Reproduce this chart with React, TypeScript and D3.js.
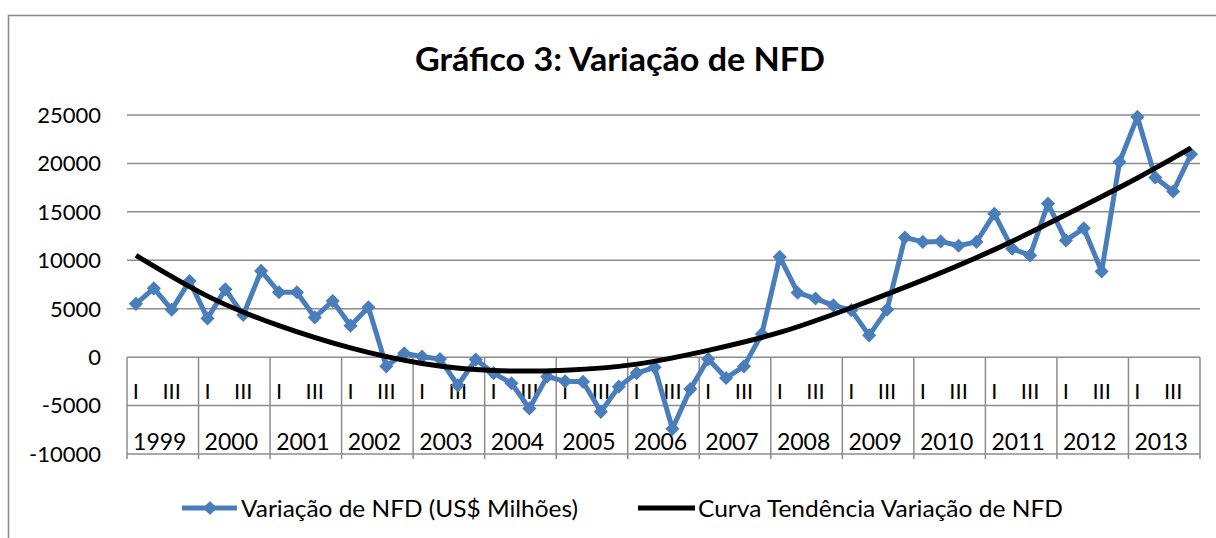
import React from 'react';
import * as d3 from 'd3';

const years = ['1999', '2000', '2001', '2002', '2003', '2004', '2005', '2006', '2007', '2008', '2009', '2010', '2011', '2012', '2013'];
const quarters = ['I', 'II', 'III', 'IV'];
const shownQuarters = ['I', 'III'];

// Variação de NFD (US$ Milhões), quarterly
const nfd1999 = [5500, 7100, 4900, 7850];
const nfd2000 = [4000, 7000, 4350, 8900];
const nfd2001 = [6700, 6700, 4100, 5800];
const nfd2002 = [3250, 5150, -950, 400];
const nfd2003 = [50, -200, -2900, -250];
const nfd2004 = [-1650, -2700, -5300, -2000];
const nfd2005 = [-2500, -2550, -5650, -3050];
const nfd2006 = [-1650, -1050, -7400, -3300];
const nfd2007 = [-200, -2150, -950, 2400];
const nfd2008 = [10350, 6650, 6050, 5350];
const nfd2009 = [4850, 2250, 4900, 12350];
const nfd2010 = [11900, 11950, 11500, 11900];
const nfd2011 = [14800, 11200, 10500, 15850];
const nfd2012 = [12050, 13300, 8850, 20150];
const nfd2013 = [24800, 18550, 17100, 20950];

// trend curve, read at some quarter positions (index into the 60 quarters)
const trendIdx = [0, 4, 8, 12, 16, 20, 24, 28, 32, 36, 40, 44, 48, 52, 56, 59];
const trendVal = [10500, 6300, 3250, 950, -650, -1380, -1350, -720, 700, 2550, 5100, 7950, 11100, 14700, 18500, 21600];

const yTicks = [-10000, -5000, 0, 5000, 10000, 15000, 20000, 25000];

const title = 'Gráfico 3: Variação de NFD';
const seriesName = 'Variação de NFD (US$ Milhões)';
const trendName = 'Curva Tendência Variação de NFD';

const W = 1216;
const H = 538;
const font = 'Lato, Carlito, Calibri, sans-serif';
const blue = '#4a7ebb';
const grid = '#8c8c8c';

const App = () => {
  const nfd = [nfd1999, nfd2000, nfd2001, nfd2002, nfd2003, nfd2004, nfd2005, nfd2006, nfd2007, nfd2008, nfd2009, nfd2010, nfd2011, nfd2012, nfd2013];
  const keys = years.flatMap(y => quarters.map(q => y + '-' + q));
  const data = keys.map((k, i) => ({ key: k, value: nfd[Math.floor(i / 4)][i % 4] }));

  const x = d3.scaleBand().domain(keys).range([127, 1200]).padding(0);
  const xc = (k: string) => (x(k) as number) + x.bandwidth() / 2;
  const y = d3.scaleLinear().domain([-10000, 25000]).range([454, 115]);

  const line = d3.line<{ key: string; value: number }>()
    .x(d => xc(d.key))
    .y(d => y(d.value));

  const trend = trendIdx.map((i, j) => ({ key: keys[i], value: trendVal[j] }));
  const trendLine = d3.line<{ key: string; value: number }>()
    .x(d => xc(d.key))
    .y(d => y(d.value))
    .curve(d3.curveNatural);

  const diamond = d3.symbol().type(d3.symbolSquare).size(100)();
  const yearW = x.bandwidth() * 4;

  return (
    <svg width={W} height={H} style={{ position: 'absolute', left: 0, top: 0, background: '#fff' }} fontFamily={font}>
      {/* chart frame */}
      <rect x={8.5} y={15.5} width={W + 20} height={H + 20} fill="#fff" stroke="#8a8a8a" strokeWidth={1.5} />

      <text x={620} y={71} textAnchor="middle" fontSize={33} fontWeight="bold" fill="#000"
        textLength={410} lengthAdjust="spacingAndGlyphs">{title}</text>

      {/* gridlines */}
      {yTicks.map(t => (
        <line key={t} x1={127} x2={1200} y1={y(t)} y2={y(t)} stroke={grid} strokeWidth={1.5} />
      ))}
      {yTicks.map(t => (
        <text key={'l' + t} x={101} y={y(t)} dy="0.36em" textAnchor="end" fontSize={22} fill="#000">{t}</text>
      ))}

      {/* multi-level category axis */}
      {years.map(yr => {
        const x0 = x(yr + '-I') as number;
        return (
          <g key={yr}>
            <line x1={x0} x2={x0} y1={y(0)} y2={459} stroke={grid} strokeWidth={1.5} />
            <text x={x0 + yearW / 2 - 3} y={442} dy="0.36em" textAnchor="middle" fontSize={23} fill="#000">{yr}</text>
            {shownQuarters.map(q => (
              <text key={q} x={xc(yr + '-' + q)} y={391} dy="0.36em" textAnchor="middle" fontSize={22} fill="#000">{q}</text>
            ))}
          </g>
        );
      })}
      <line x1={1200} x2={1200} y1={y(0)} y2={459} stroke={grid} strokeWidth={1.5} />

      {/* series */}
      <path d={line(data) || ''} fill="none" stroke={blue} strokeWidth={5} strokeLinejoin="round" />
      {data.map(d => (
        <path key={d.key} d={diamond} transform={`translate(${xc(d.key)},${y(d.value)}) rotate(45)`} fill={blue} />
      ))}
      <path d={trendLine(trend) || ''} fill="none" stroke="#000" strokeWidth={5} strokeLinecap="butt" />

      {/* legend */}
      <line x1={182} x2={237} y1={508} y2={508} stroke={blue} strokeWidth={5} />
      <path d={diamond} transform="translate(210,508) rotate(45)" fill={blue} />
      <text x={241} y={508} dy="0.36em" fontSize={24} fill="#000"
        textLength={337} lengthAdjust="spacingAndGlyphs">{seriesName}</text>
      <line x1={638} x2={695} y1={508} y2={508} stroke="#000" strokeWidth={5} />
      <text x={698} y={508} dy="0.36em" fontSize={24} fill="#000"
        textLength={365} lengthAdjust="spacingAndGlyphs">{trendName}</text>
    </svg>
  );
};

export default App;
